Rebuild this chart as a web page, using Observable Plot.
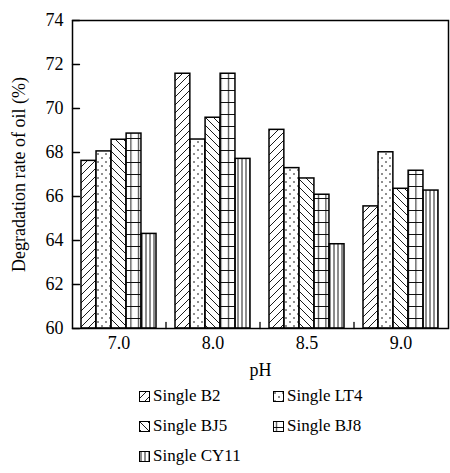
<!DOCTYPE html>
<html><head><meta charset="utf-8">
<script src="https://cdn.jsdelivr.net/npm/d3@7"></script>
<script src="https://cdn.jsdelivr.net/npm/@observablehq/plot@0.6"></script>
<style>
body{margin:0;background:#fff;font-family:"Liberation Serif","Times New Roman",serif;}
#chart{position:relative;width:450px;height:473px;overflow:hidden;}
#chart svg text{font-family:"Liberation Serif","Times New Roman",serif !important;}
.item{position:absolute;display:flex;align-items:center;white-space:nowrap;font-size:17px;line-height:20px;height:20px;color:#000;}
.item svg{margin-right:3px;display:block}
</style></head><body><div id="chart"></div>
<script>
// ---- data ----
const pH = ["7.0", "8.0", "8.5", "9.0"];
const seriesNames = ["Single B2", "Single LT4", "Single BJ5", "Single BJ8", "Single CY11"];
const seriesKeys = ["B2", "LT4", "BJ5", "BJ8", "CY11"];
const B2 = [67.62, 71.58, 69.03, 65.55];
const LT4 = [68.05, 68.59, 67.29, 68.01];
const BJ5 = [68.58, 69.58, 66.82, 66.35];
const BJ8 = [68.86, 71.58, 66.08, 67.17];
const CY11 = [64.30, 67.71, 63.83, 66.27];
const yTicks = [60, 62, 64, 66, 68, 70, 72, 74];
const yLabel = "Degradation rate of oil (%)";
const xLabel = "pH";

const values = {B2, LT4, BJ5, BJ8, CY11};
const rows = pH.map((p, i) => {
  const r = {pH: p};
  for (const k of seriesKeys) r[k] = values[k][i];
  return r;
});

const W = 450, H = 380, ML = 72, MR = 2, MT = 20, MB = 52;
const step = (W - ML - MR) / pH.length;
const bw = step * 0.8 / seriesKeys.length;
const tickShape = {draw(ctx, l) { ctx.moveTo(0, 0); ctx.lineTo(0, -l); }};
const serif = "Liberation Serif, Times New Roman, serif";

const marks = [
  ...seriesKeys.map((k, i) => Plot.barY(rows, {
    x: "pH", y1: 60, y2: k, fill: `url(#p${k})`, stroke: "black", strokeWidth: 1.5,
    insetLeft: i * bw, insetRight: (seriesKeys.length - 1 - i) * bw
  })),
  Plot.frame({stroke: "black", strokeWidth: 1.5}),
  Plot.axisY(yTicks, {tickSize: 0, tickPadding: 9, fontSize: 18, label: yLabel, labelAnchor: "center", labelOffset: 60, labelArrow: "none"}),
  Plot.vector(yTicks, {y: d => d, frameAnchor: "left", rotate: 90, length: 7, anchor: "start", shape: tickShape, stroke: "black", strokeWidth: 1.3}),
  Plot.axisX({tickSize: 0, tickPadding: 8, fontSize: 18, label: xLabel, labelAnchor: "center", labelOffset: 47, labelArrow: "none"}),
  Plot.vector(pH.slice(1), {x: d => d, dx: -step / 2, frameAnchor: "bottom", rotate: 0, length: 6, anchor: "start", shape: tickShape, stroke: "black", strokeWidth: 1.3})
];

const svg = Plot.plot({
  width: W, height: H, marginLeft: ML, marginRight: MR, marginTop: MT, marginBottom: MB,
  style: {fontFamily: serif, fontSize: "18px", background: "white", color: "black"},
  x: {type: "band", domain: pH, paddingInner: 0.2, paddingOuter: 0.1},
  y: {domain: [60, 74]},
  marks
});
svg.setAttribute("font-family", serif);
d3.select(svg).selectAll("text").attr("font-family", serif).style("font-family", serif);

// pattern definitions
const ns = "http://www.w3.org/2000/svg";
const defs = document.createElementNS(ns, "defs");
defs.innerHTML = `
<pattern id="pB2" patternUnits="userSpaceOnUse" width="8" height="8"><rect width="8" height="8" fill="white"/><path d="M-2,2 L2,-2 M0,8 L8,0 M6,10 L10,6" stroke="black" stroke-width="0.9"/></pattern>
<pattern id="pBJ5" patternUnits="userSpaceOnUse" width="8" height="8"><rect width="8" height="8" fill="white"/><path d="M-2,6 L2,10 M0,0 L8,8 M6,-2 L10,2" stroke="black" stroke-width="0.9"/></pattern>
<pattern id="pLT4" patternUnits="userSpaceOnUse" width="8" height="8"><rect width="8" height="8" fill="white"/><circle cx="2" cy="2" r="0.8" fill="black"/><circle cx="6" cy="6" r="0.8" fill="black"/></pattern>
<pattern id="pBJ8" patternUnits="userSpaceOnUse" width="7.5" height="12"><rect width="7.5" height="12" fill="white"/><path d="M0,6.5 H7.5 M3.5,0 V12" stroke="black" stroke-width="0.9"/></pattern>
<pattern id="pCY11" patternUnits="userSpaceOnUse" width="4" height="4"><rect width="4" height="4" fill="white"/><path d="M2,0 V4" stroke="black" stroke-width="0.9"/></pattern>`;
svg.insertBefore(defs, svg.firstChild);

const chart = document.getElementById("chart");
chart.appendChild(svg);

// legend
const pos = [[139, 386], [273, 386], [139, 416], [273, 416], [139, 446]];
seriesKeys.forEach((k, i) => {
  const div = document.createElement("div");
  div.className = "item";
  div.style.left = pos[i][0] + "px";
  div.style.top = pos[i][1] + "px";
  div.innerHTML = `<svg width="11" height="11"><rect x="0.5" y="0.5" width="10" height="10" fill="url(#p${k})" stroke="black" stroke-width="1"/></svg><span>${seriesNames[i]}</span>`;
  chart.appendChild(div);
});
</script></body></html>
